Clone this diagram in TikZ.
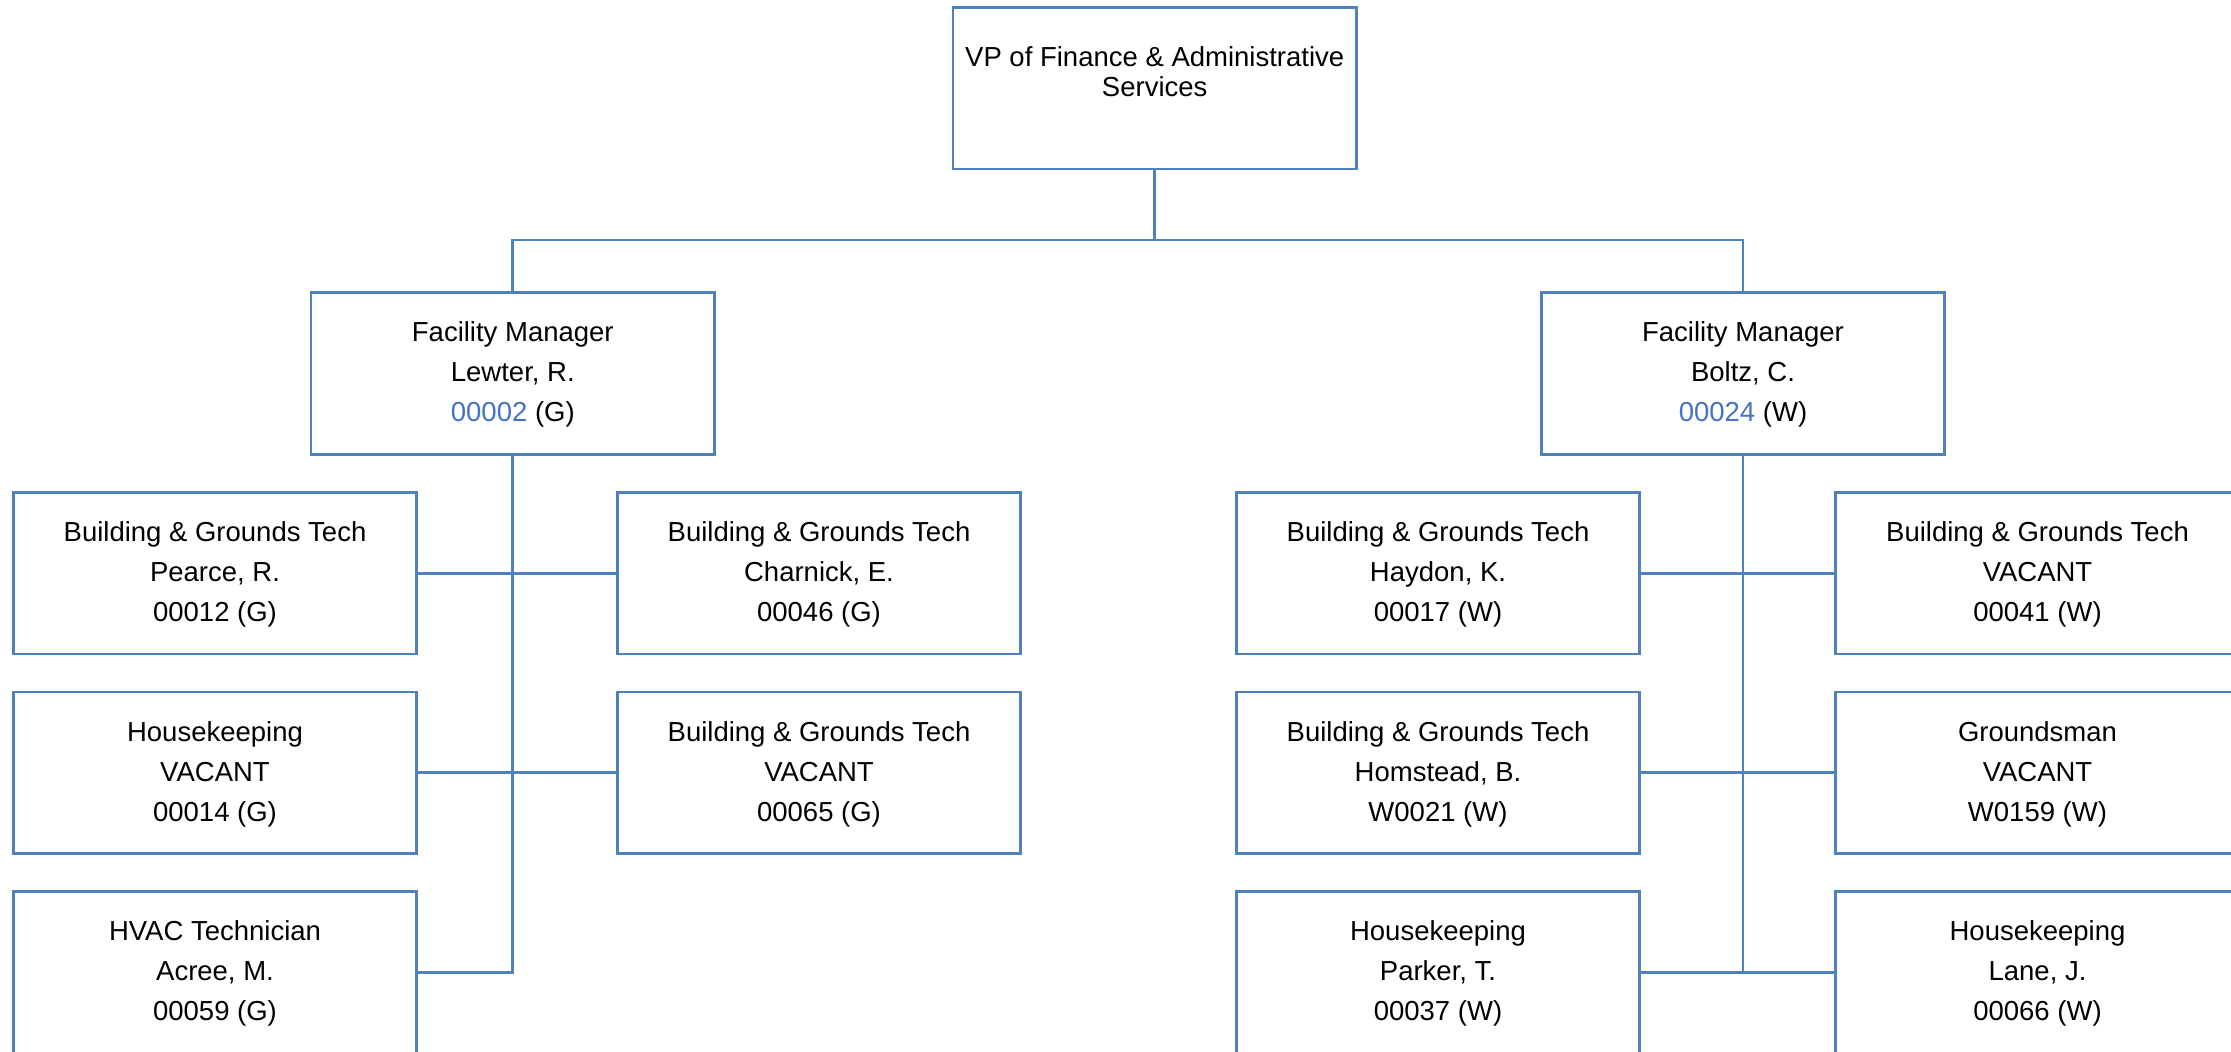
\documentclass[tikz,border=0pt]{standalone}
\usepackage{fontspec}
\setmainfont{Liberation Sans}
\definecolor{orgline}{RGB}{79,129,189}
\definecolor{idblue}{RGB}{68,114,196}
\begin{document}
\begin{tikzpicture}[x=1pt,y=-1pt,
  posbox/.style={draw=orgline, line width=2.6pt, fill=white, minimum width=403.5pt, minimum height=161.7pt, inner sep=0pt, align=center, font=\fontsize{27.5}{40}\selectfont, text depth=3pt},
  link/.style={draw=orgline, line width=2.8pt},
  vptext/.style={inner sep=0pt, align=center, anchor=north, font=\fontsize{27.5}{30}\selectfont}]
\clip (0,0) rectangle (2231,1052);
% top
\node[posbox] (vp) at (1154.7,88.3) {};
\node[vptext] (vplabel) at (1154.7,46.7) {VP of Finance \& Administrative\\Services};
% managers
\node[posbox] (fmL) at (512.8,373.5) {Facility Manager\\Lewter, R.\\{\color{idblue}00002} (G)};
\node[posbox] (fmR) at (1743,373.5) {Facility Manager\\Boltz, C.\\{\color{idblue}00024} (W)};
% left staff
\node[posbox] (pearce) at (215,573.3) {Building \& Grounds Tech\\Pearce, R.\\00012 (G)};
\node[posbox] (charnick) at (819,573.3) {Building \& Grounds Tech\\Charnick, E.\\00046 (G)};
\node[posbox] (hkL) at (215,772.7) {Housekeeping\\VACANT\\00014 (G)};
\node[posbox] (bgtL) at (819,772.7) {Building \& Grounds Tech\\VACANT\\00065 (G)};
\node[posbox] (hvac) at (215,972.1) {HVAC Technician\\Acree, M.\\00059 (G)};
% right staff
\node[posbox] (haydon) at (1438,573.3) {Building \& Grounds Tech\\Haydon, K.\\00017 (W)};
\node[posbox] (vacR) at (2037.5,573.3) {Building \& Grounds Tech\\VACANT\\00041 (W)};
\node[posbox] (homstead) at (1438,772.7) {Building \& Grounds Tech\\Homstead, B.\\W0021 (W)};
\node[posbox] (grounds) at (2037.5,772.7) {Groundsman\\VACANT\\W0159 (W)};
\node[posbox] (parker) at (1438,972.1) {Housekeeping\\Parker, T.\\00037 (W)};
\node[posbox] (lane) at (2037.5,972.1) {Housekeeping\\Lane, J.\\00066 (W)};
% connectors
\coordinate (bus) at (1154.7,240);
\draw[link] (vp.south) -- (bus);
\draw[link] (fmL.north) |- (bus) -| (fmR.north);
\draw[link] (fmL.south) |- (hvac.east);
\draw[link] (pearce.east) -- (charnick.west);
\draw[link] (hkL.east) -- (bgtL.west);
\draw[link] (fmR.south) -- (fmR.south |- parker.east);
\draw[link] (haydon.east) -- (vacR.west);
\draw[link] (homstead.east) -- (grounds.west);
\draw[link] (parker.east) -- (lane.west);
\end{tikzpicture}
\end{document}
